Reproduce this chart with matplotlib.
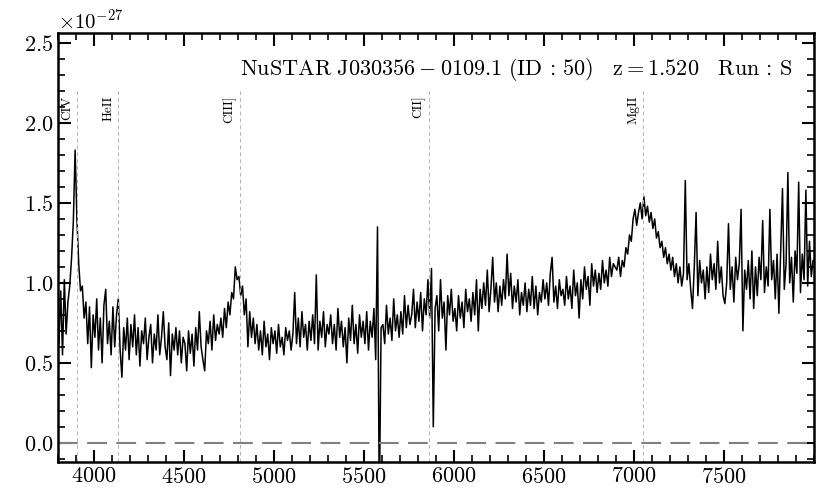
import matplotlib
matplotlib.use("Agg")
import matplotlib.pyplot as plt
from matplotlib.ticker import MultipleLocator
import numpy as np

plt.rcParams["font.family"] = "serif"
plt.rcParams["font.serif"] = ["cmr10"]
plt.rcParams["mathtext.fontset"] = "cm"
plt.rcParams["axes.formatter.use_mathtext"] = True
plt.rcParams["axes.unicode_minus"] = False

# observed wavelength grid (Angstrom), 10 A sampling
wave = np.arange(3805, 8000, 10)

# flux in units of 1e-27, one row per 100 A
flux = [
    0.62, 0.95, 0.55, 1.02, 0.68, 0.88, 0.98, 1.15, 1.38, 1.83,
    1.40, 1.12, 0.95, 0.98, 0.78, 0.88, 0.62, 0.85, 0.47, 0.80,
    0.66, 0.90, 0.58, 0.78, 0.50, 0.86, 0.96, 0.62, 0.76, 0.55,
    0.85, 0.60, 0.80, 0.90, 0.58, 0.41, 0.72, 0.58, 0.78, 0.52,
    0.74, 0.60, 0.80, 0.55, 0.72, 0.48, 0.70, 0.62, 0.78, 0.52,
    0.66, 0.74, 0.50, 0.68, 0.58, 0.80, 0.55, 0.66, 0.82, 0.60,
    0.52, 0.75, 0.42, 0.68, 0.58, 0.72, 0.55, 0.70, 0.50, 0.66,
    0.62, 0.45, 0.70, 0.56, 0.68, 0.48, 0.72, 0.58, 0.82, 0.60,
    0.52, 0.45, 0.70, 0.62, 0.76, 0.58, 0.80, 0.64, 0.74, 0.68,
    0.78, 0.66, 0.84, 0.72, 0.88, 0.80, 0.94, 0.90, 1.10, 1.02,
    1.04, 0.92, 0.98, 0.80, 0.90, 0.60, 0.82, 0.66, 0.78, 0.62,
    0.74, 0.58, 0.70, 0.55, 0.76, 0.60, 0.68, 0.52, 0.72, 0.62,
    0.70, 0.56, 0.74, 0.60, 0.66, 0.55, 0.72, 0.64, 0.70, 0.58,
    0.68, 0.94, 0.62, 0.78, 0.60, 0.82, 0.66, 0.74, 0.58, 0.76,
    0.64, 0.80, 0.62, 1.05, 0.58, 0.76, 0.66, 0.82, 0.60, 0.74,
    0.68, 0.80, 0.62, 0.74, 0.58, 0.84, 0.66, 0.76, 0.60, 0.72,
    0.50, 0.78, 0.64, 0.86, 0.62, 0.74, 0.56, 0.80, 0.66, 0.76,
    0.62, 0.82, 0.58, 0.76, 0.66, 0.84, 0.52, 1.35, -0.40, 0.72,
    0.74, 0.62, 0.86, 0.68, 0.78, 0.64, 0.90, 0.70, 0.80, 0.66,
    0.82, 0.68, 0.92, 0.72, 0.86, 0.74, 0.80, 0.96, 0.72, 0.88,
    0.76, 0.94, 0.70, 0.90, 0.80, 1.02, 0.78, 1.09, 0.10, 0.84,
    0.92, 0.70, 1.02, 0.78, 0.88, 0.58, 0.92, 0.80, 0.96, 0.76,
    0.84, 0.70, 0.92, 0.78, 0.88, 0.72, 0.96, 0.82, 0.90, 0.76,
    0.94, 0.80, 1.02, 0.70, 0.96, 0.84, 1.00, 0.86, 1.08, 0.82,
    0.96, 1.16, 0.88, 1.00, 0.82, 0.98, 0.86, 1.02, 0.90, 1.18,
    0.92, 1.06, 0.84, 0.98, 0.88, 1.02, 0.80, 0.94, 0.86, 1.00,
    0.82, 0.96, 0.86, 1.04, 0.84, 0.98, 0.80, 0.94, 0.88, 1.02,
    0.90, 1.00, 0.86, 1.06, 1.16, 0.88, 0.98, 0.84, 1.02, 0.92,
    0.96, 0.86, 1.04, 0.90, 0.98, 0.84, 1.08, 0.92, 1.00, 0.78,
    1.02, 0.90, 1.10, 0.96, 1.04, 0.86, 1.12, 0.98, 1.08, 0.94,
    1.06, 0.96, 1.14, 1.00, 1.08, 0.98, 1.16, 1.04, 1.12, 1.10,
    1.08, 1.16, 1.04, 1.14, 1.10, 1.22, 1.18, 1.30, 1.26, 1.40,
    1.46, 1.36, 1.44, 1.50, 1.40, 1.54, 1.42, 1.48, 1.38, 1.44,
    1.34, 1.40, 1.28, 1.32, 1.22, 1.26, 1.16, 1.22, 1.12, 1.18,
    1.08, 1.16, 1.04, 1.12, 1.00, 1.10, 0.98, 1.06, 1.64, 1.02,
    1.12, 0.96, 0.84, 1.10, 1.44, 0.92, 1.14, 1.00, 1.08, 0.90,
    1.10, 0.94, 1.18, 1.02, 1.12, 0.96, 1.26, 1.00, 1.10, 0.92,
    0.87, 1.00, 1.37, 0.96, 1.10, 0.88, 1.16, 1.02, 1.12, 1.46,
    0.70, 1.08, 0.96, 1.14, 0.90, 1.20, 0.84, 1.10, 0.92, 1.16,
    1.02, 1.39, 0.94, 1.10, 0.98, 1.46, 1.02, 1.14, 0.90, 1.18,
    0.81, 1.20, 1.59, 0.96, 1.12, 1.69, 1.00, 1.16, 0.88, 1.20,
    1.06, 1.63, 0.94, 1.18, 1.02, 1.58, 0.98, 1.26, 1.04, 1.14,
]
flux = np.array(flux) * 1e-27

line_names = ["CIV", "HeII", "CIII]", "CII]", "MgII"]
line_rest = [1549.0, 1640.0, 1909.0, 2326.0, 2798.0]
redshift = 1.520

fig = plt.figure(figsize=(8.3, 4.98), dpi=100)
ax = fig.add_axes([0.0699, 0.0723, 0.9108, 0.8614])

ymin, ymax = -0.12e-27, 2.5625e-27

ax.plot(wave, flux, color="k", lw=1.1)
ax.axhline(0, color="#808080", lw=1.5, dashes=[9.5, 4.5])

for name, rest in zip(line_names, line_rest):
    obs = rest * (1 + redshift)
    ax.vlines(obs, ymin, 2.2e-27, color="#b5b5b5", lw=0.7, linestyles=(0, (4, 3)))
    ax.text(obs - 20, 2.17e-27, name, rotation=90, ha="right", va="top", fontsize=9.5)

ax.text(0.971, 0.914,
        r"$\mathrm{NuSTAR\ J030356-0109.1\ (ID\,:\,50)\quad z=1.520\quad Run\,:\,S}$",
        transform=ax.transAxes, ha="right", va="center", fontsize=16)

ax.set_xlim(3800, 8000)
ax.set_ylim(ymin, ymax)
ax.set_xticks([4000, 4500, 5000, 5500, 6000, 6500, 7000, 7500])
ax.set_yticks([0.0, 0.5e-27, 1.0e-27, 1.5e-27, 2.0e-27, 2.5e-27])
ax.xaxis.set_minor_locator(MultipleLocator(100))
ax.yaxis.set_minor_locator(MultipleLocator(0.1e-27))

ax.tick_params(which="both", direction="in", top=True, right=True, labelsize=16)
ax.tick_params(which="major", length=9, width=1.5)
ax.tick_params(which="minor", length=5, width=1.2)
ax.yaxis.get_offset_text().set_fontsize(15)
for spine in ax.spines.values():
    spine.set_linewidth(1.8)

fig.savefig("out.png", dpi=100)
